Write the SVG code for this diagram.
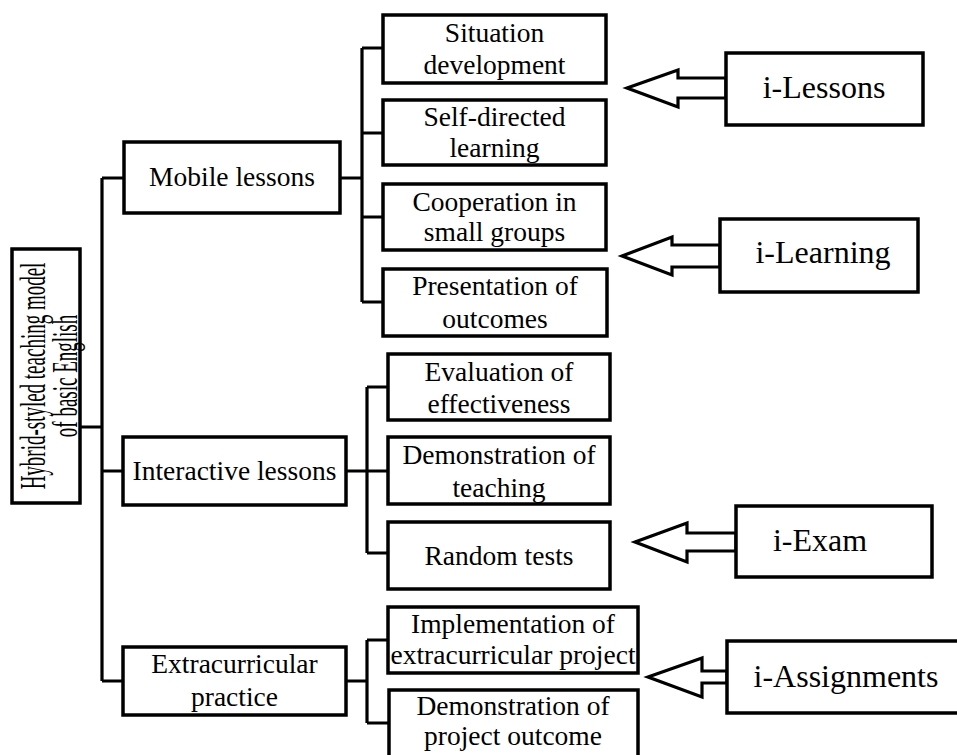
<svg xmlns="http://www.w3.org/2000/svg" width="957" height="755" viewBox="0 0 957 755">
<style>
.box{fill:#fff;stroke:#000;stroke-width:3.5}
.ln{fill:none;stroke:#000;stroke-width:3.2}
.ar{fill:#fff;stroke:#000;stroke-width:3.2;stroke-linejoin:miter}
text{font-family:"Liberation Serif","Times New Roman",serif;fill:#000}
.t{font-size:27.5px;text-anchor:middle}
.tb{font-size:32px;text-anchor:middle}
</style>
<rect width="957" height="755" fill="#fff"/>
<g id="connectors">
<path class="ln" d="M80,427H102M102,178V681M102,178H124M102,471H123M102,681H123"/>
<path class="ln" d="M340,178H362M362,48V302M362,48H383M362,133H383M362,217H383M362,302H383"/>
<path class="ln" d="M346,471H367M367,387V553M367,387H388M367,471H388M367,553H388"/>
<path class="ln" d="M346,681H367M367,640V723M367,640H388M367,723H388"/>
</g>
<g id="root">
<rect class="box" x="12" y="249" width="68" height="254"/>
<g transform="translate(0,376) rotate(-90) scale(1,1.9)">
<text x="0" y="23.7" font-size="19" text-anchor="middle">Hybrid-styled teaching model</text>
<text x="0" y="40.5" font-size="19" text-anchor="middle">of basic English</text>
</g>
</g>
<g id="mobile">
<rect class="box" x="124" y="142" width="216" height="71"/>
<text class="t" x="232" y="186">Mobile lessons</text>
</g>
<g id="interactive">
<rect class="box" x="123" y="437" width="223" height="68"/>
<text class="t" x="234.5" y="480">Interactive lessons</text>
</g>
<g id="extracurricular">
<rect class="box" x="123" y="647" width="223" height="68"/>
<text class="t" x="234.5" y="673">Extracurricular</text>
<text class="t" x="234.5" y="706">practice</text>
</g>
<g id="situation">
<rect class="box" x="383" y="15" width="223" height="68"/>
<text class="t" x="494.5" y="42">Situation</text>
<text class="t" x="494.5" y="74">development</text>
</g>
<g id="selfdirected">
<rect class="box" x="383" y="100" width="223" height="65"/>
<text class="t" x="494.5" y="126">Self-directed</text>
<text class="t" x="494.5" y="157">learning</text>
</g>
<g id="cooperation">
<rect class="box" x="383" y="184" width="223" height="66"/>
<text class="t" x="494.5" y="211">Cooperation in</text>
<text class="t" x="494.5" y="241">small groups</text>
</g>
<g id="presentation">
<rect class="box" x="383" y="269" width="224" height="67"/>
<text class="t" x="495" y="295">Presentation of</text>
<text class="t" x="495" y="328">outcomes</text>
</g>
<g id="evaluation">
<rect class="box" x="388" y="354" width="222" height="66"/>
<text class="t" x="499" y="381">Evaluation of</text>
<text class="t" x="499" y="413">effectiveness</text>
</g>
<g id="demo-teaching">
<rect class="box" x="388" y="437" width="222" height="67"/>
<text class="t" x="499" y="464">Demonstration of</text>
<text class="t" x="499" y="497">teaching</text>
</g>
<g id="random">
<rect class="box" x="388" y="522" width="222" height="67"/>
<text class="t" x="499" y="565">Random tests</text>
</g>
<g id="implementation">
<rect class="box" x="388" y="607" width="250" height="66"/>
<text class="t" x="513" y="633">Implementation of</text>
<text class="t" x="513" y="664">extracurricular project</text>
</g>
<g id="demo-project">
<rect class="box" x="389" y="690" width="249" height="80"/>
<text class="t" x="513" y="715">Demonstration of</text>
<text class="t" x="513" y="745">project outcome</text>
</g>
<g id="i-lessons">
<polygon class="ar" points="627,88 678,70 678,78 726,78 726,98 678,98 678,107"/>
<rect class="box" x="726" y="53" width="197" height="72"/>
<text class="tb" x="824" y="98">i-Lessons</text>
</g>
<g id="i-learning">
<polygon class="ar" points="622,256 672,237 672,245 720,245 720,267 672,267 672,275"/>
<rect class="box" x="720" y="219" width="198" height="73"/>
<text class="tb" x="823" y="263">i-Learning</text>
</g>
<g id="i-exam">
<polygon class="ar" points="635,542 687,523 687,533 736,533 736,551 687,551 687,562"/>
<rect class="box" x="736" y="506" width="196" height="71"/>
<text class="tb" x="820" y="551">i-Exam</text>
</g>
<g id="i-assignments">
<polygon class="ar" points="648,677 702,658 702,671 727,671 727,683 702,683 702,697"/>
<rect class="box" x="727" y="641" width="240" height="72"/>
<text class="tb" x="846" y="687">i-Assignments</text>
</g>
</svg>
